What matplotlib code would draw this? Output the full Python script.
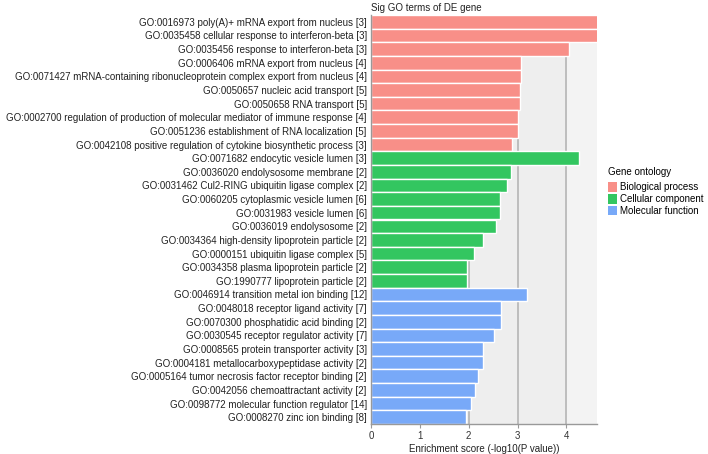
import matplotlib
matplotlib.use("Agg")
import matplotlib.pyplot as plt
from matplotlib.patches import Patch

plt.rcParams["font.family"] = ["Liberation Sans", "DejaVu Sans"]

# GO terms, top to bottom
terms = [
    "GO:0016973 poly(A)+ mRNA export from nucleus [3]",
    "GO:0035458 cellular response to interferon-beta [3]",
    "GO:0035456 response to interferon-beta [3]",
    "GO:0006406 mRNA export from nucleus [4]",
    "GO:0071427 mRNA-containing ribonucleoprotein complex export from nucleus [4]",
    "GO:0050657 nucleic acid transport [5]",
    "GO:0050658 RNA transport [5]",
    "GO:0002700 regulation of production of molecular mediator of immune response [4]",
    "GO:0051236 establishment of RNA localization [5]",
    "GO:0042108 positive regulation of cytokine biosynthetic process [3]",
    "GO:0071682 endocytic vesicle lumen [3]",
    "GO:0036020 endolysosome membrane [2]",
    "GO:0031462 Cul2-RING ubiquitin ligase complex [2]",
    "GO:0060205 cytoplasmic vesicle lumen [6]",
    "GO:0031983 vesicle lumen [6]",
    "GO:0036019 endolysosome [2]",
    "GO:0034364 high-density lipoprotein particle [2]",
    "GO:0000151 ubiquitin ligase complex [5]",
    "GO:0034358 plasma lipoprotein particle [2]",
    "GO:1990777 lipoprotein particle [2]",
    "GO:0046914 transition metal ion binding [12]",
    "GO:0048018 receptor ligand activity [7]",
    "GO:0070300 phosphatidic acid binding [2]",
    "GO:0030545 receptor regulator activity [7]",
    "GO:0008565 protein transporter activity [3]",
    "GO:0004181 metallocarboxypeptidase activity [2]",
    "GO:0005164 tumor necrosis factor receptor binding [2]",
    "GO:0042056 chemoattractant activity [2]",
    "GO:0098772 molecular function regulator [14]",
    "GO:0008270 zinc ion binding [8]",
]
scores = [
    4.75, 4.75, 4.05, 3.07, 3.07, 3.04, 3.04, 3.00, 3.00, 2.88,
    4.25, 2.86, 2.79, 2.65, 2.64, 2.55, 2.29, 2.10, 1.97, 1.97,
    3.20, 2.67, 2.67, 2.52, 2.29, 2.29, 2.20, 2.12, 2.04, 1.95,
]
groups = ["Biological process"] * 10 + ["Cellular component"] * 10 + ["Molecular function"] * 10
group_names = ["Biological process", "Cellular component", "Molecular function"]
group_colors = {"Biological process": "#F88F88",
                "Cellular component": "#33C660",
                "Molecular function": "#78A9F8"}

xmax = 4.62

fig = plt.figure(figsize=(7.08, 4.54), dpi=100)
ax = fig.add_axes([371 / 708, 1 - 424 / 454, (596.7 - 371) / 708, (424 - 15) / 454])

ax.set_facecolor("#EEEEEE")
ax.axvspan(4, xmax, color="#F3F3F3", zorder=0, lw=0)
for g in [1, 2, 3, 4]:
    ax.axvline(g, color="#BDBDBD", lw=1.4, zorder=1)

ypos = list(range(len(terms)))
ax.barh(ypos, scores, height=1.0, color=[group_colors[g] for g in groups],
        edgecolor="white", linewidth=1.0, zorder=2)

fs = 7.05
ax.set_xlim(0, xmax)
ax.set_ylim(len(terms) - 0.5, -0.5)
ax.set_yticks(ypos)
ax.set_yticklabels(terms, fontsize=fs, color="#222222")
ax.tick_params(axis="y", length=0, pad=3)
ax.set_xticks([0, 1, 2, 3, 4])
ax.tick_params(axis="x", length=3, color="#999999", labelsize=fs,
               labelcolor="#333333", pad=2)
ax.set_xlabel("Enrichment score (-log10(P value))", fontsize=fs, color="#222222", labelpad=2)
ax.set_title("Sig GO terms of DE gene", fontsize=fs, loc="left", color="#222222", pad=3)

for s in ["top", "right"]:
    ax.spines[s].set_visible(False)
for s in ["left", "bottom"]:
    ax.spines[s].set_color("#999999")
    ax.spines[s].set_linewidth(1.0)

handles = [Patch(facecolor=group_colors[g], edgecolor="none", label=g) for g in group_names]
leg = fig.legend(handles=handles, title="Gene ontology", loc="upper left",
                 bbox_to_anchor=(603 / 708, 1 - 162 / 454), frameon=False,
                 fontsize=fs, title_fontsize=fs, handlelength=0.9, handleheight=1.1,
                 handletextpad=0.35, labelspacing=0.18, borderpad=0)
leg._legend_box.align = "left"
leg._legend_box.sep = 4

fig.savefig("out.png", dpi=100)
